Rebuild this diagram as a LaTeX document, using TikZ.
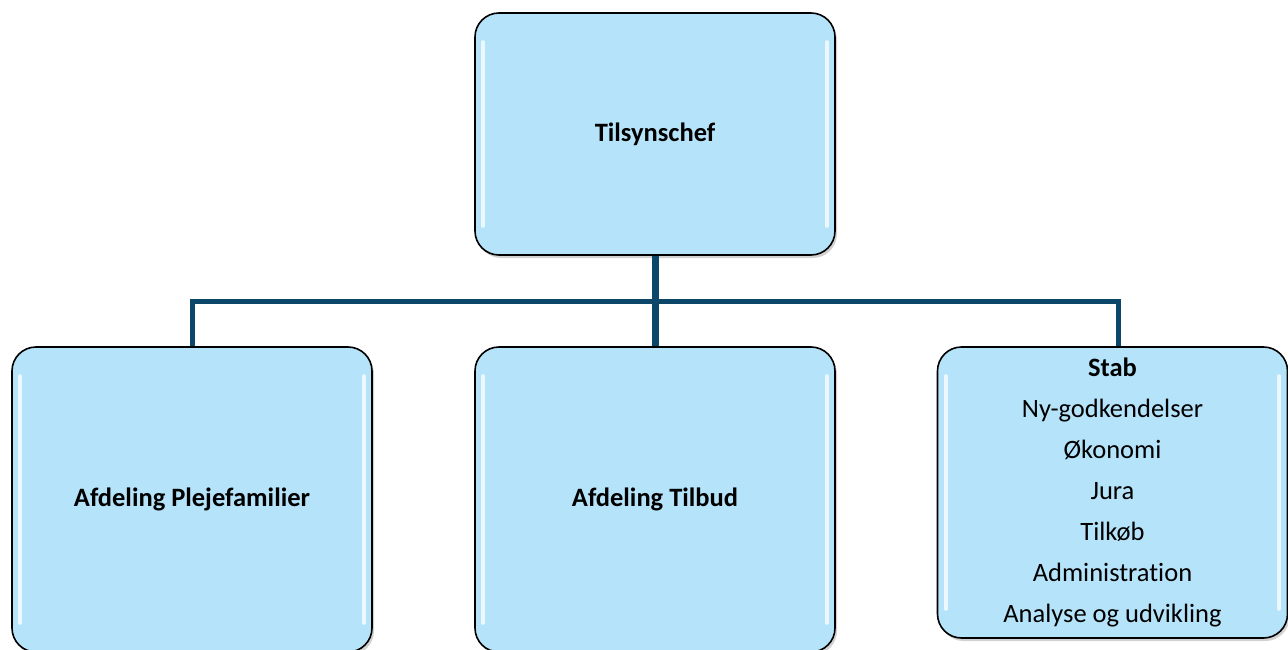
\documentclass[tikz,border=0pt]{standalone}
\usepackage{fontspec}
\setmainfont{Carlito}[Ligatures={NoCommon}]
\usetikzlibrary{shadows}
\definecolor{boxfill}{RGB}{181,228,250}
\definecolor{busblue}{RGB}{12,70,104}
\tikzset{
  orgbox/.style={draw=black, line width=1.6pt, fill=boxfill, rounded corners=24pt,
    inner sep=0pt, align=center, text=black,
    font=\fontsize{26.5}{41}\selectfont,
    drop shadow={shadow xshift=2pt, shadow yshift=-3pt, opacity=0.35, fill=gray}},
  busline/.style={draw=busblue, line width=5pt, line join=miter},
  trunk/.style={draw=busblue, line width=7pt},
  shine/.style={draw=white, line width=4pt, line cap=round, opacity=0.75}
}
\begin{document}
\begin{tikzpicture}[x=1pt,y=1pt]
\useasboundingbox (0,0) rectangle (1288,-650);
\fill[white] (0,0) rectangle (1288,-650);
% boxes
\node[orgbox, minimum width=360pt, minimum height=242pt] (chef) at (655,-134) {\bfseries Tilsynschef};
\node[orgbox, minimum width=360pt, minimum height=305pt] (pf) at (192,-499.5) {\bfseries Afdeling Plejefamilier};
\node[orgbox, minimum width=360pt, minimum height=305pt] (tb) at (655,-499.5) {\bfseries Afdeling Tilbud};
\node[orgbox, minimum width=350pt, minimum height=291pt] (st) at (1112.5,-492.5)
  {\textbf{Stab}\\Ny-godkendelser\\Økonomi\\Jura\\Tilkøb\\Administration\\Analyse og udvikling};
% shine strips
\foreach \b in {chef,pf,tb,st}{
  \draw[shine] ([xshift=9pt,yshift=-30pt]\b.north west) -- ([xshift=9pt,yshift=30pt]\b.south west);
  \draw[shine] ([xshift=-9pt,yshift=-30pt]\b.north east) -- ([xshift=-9pt,yshift=30pt]\b.south east);
}
% connectors
\coordinate (hbar) at (655,-301);
\draw[trunk] (chef.south) -- (tb.north);
\draw[busline] (pf.north) |- (hbar) -| ([xshift=5.5pt]st.north);
\end{tikzpicture}
\end{document}
